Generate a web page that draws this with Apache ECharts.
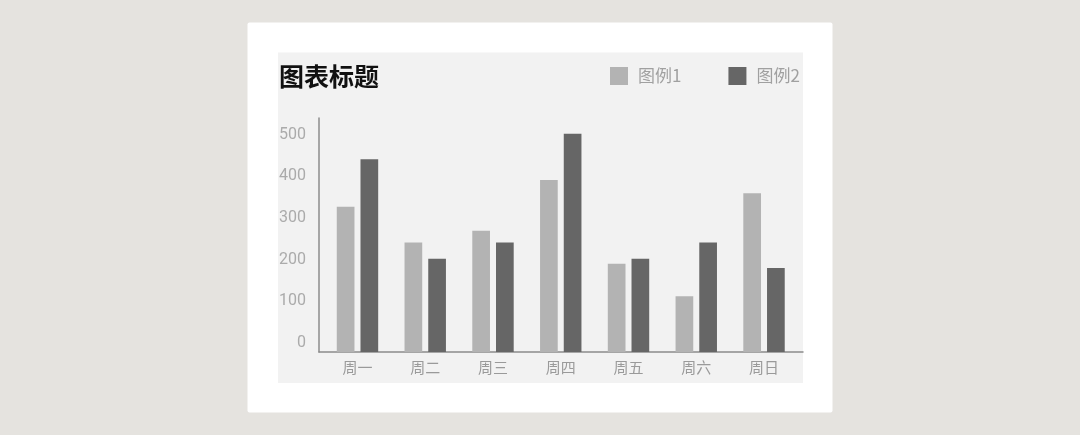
<!DOCTYPE html>
<html>
<head>
<meta charset="utf-8">
<style>
html,body{margin:0;padding:0;background:#e5e3df;}
#c{width:1080px;height:435px;}
</style>
<script src="https://cdn.jsdelivr.net/npm/echarts@6/dist/echarts.min.js"></script>
</head>
<body>
<div id="c"></div>
<script>
const categories = ['周一','周二','周三','周四','周五','周六','周日'];
const seriesNames = ['图例1','图例2'];
const series1 = [349, 263, 291, 413, 212, 134, 381];
const series2 = [463, 224, 263, 524, 224, 263, 202];
const yMin = 0, yMax = 562, yInterval = 100;
const titleText = '图表标题';

const chart = echarts.init(document.getElementById('c'), null, {renderer:'canvas'});
const font = '"Noto Sans CJK SC","Noto Sans",sans-serif';
chart.setOption({
  backgroundColor: '#e5e3df',
  animation: false,
  graphic: [
    {type:'rect', z:-10, shape:{x:247.5, y:22.5, width:585, height:390, r:2}, style:{fill:'#ffffff'}},
    {type:'rect', z:-9, shape:{x:278, y:52.5, width:525, height:330.5}, style:{fill:'#f2f2f2'}}
  ],
  title: {
    text: titleText, left: 274, top: 59,
    textStyle: {fontFamily: font, fontSize: 25, fontWeight: 'bold', color: '#111111'}
  },
  legend: {
    data: seriesNames, left: 610, top: 67, padding: 0,
    itemWidth: 18, itemHeight: 18, itemGap: 47, icon: 'rect',
    textStyle: {fontFamily: font, fontSize: 17, color: '#a0a0a0', padding: [0, 0, 0, 5]},
    itemStyle: {borderWidth: 0}
  },
  grid: [
    {left: 323.6, right: 1080-797.9, top: 118, bottom: 435-352, containLabel: false},
    {left: 319, right: 1080-803, top: 118, bottom: 435-352, containLabel: false}
  ],
  xAxis: [
    {
      type: 'category', data: categories, gridIndex: 0,
      axisLine: {show: false},
      axisTick: {show: false},
      axisLabel: {fontFamily: font, fontSize: 15, color: '#9a9a9a', margin: 8}
    },
    {
      type: 'value', gridIndex: 1, min: 0, max: 1,
      axisLine: {show: true, onZero: false, lineStyle: {color: '#8c8c8c', width: 1.5}},
      axisTick: {show: false}, axisLabel: {show: false}, splitLine: {show: false}
    }
  ],
  yAxis: [
    {
      type: 'value', gridIndex: 0, min: yMin, max: yMax, interval: yInterval,
      offset: 4.6,
      axisLine: {show: true, lineStyle: {color: '#8c8c8c', width: 1.5}},
      axisTick: {show: false},
      splitLine: {show: false},
      axisLabel: {
        showMaxLabel: false,
        fontFamily: 'Roboto,"Noto Sans",sans-serif', fontSize: 16, color: '#ababab',
        margin: 13, verticalAlign: 'bottom', lineHeight: 18
      }
    },
    {type: 'value', gridIndex: 1, show: false, min: 0, max: 1}
  ],
  series: [
    {
      name: seriesNames[0], type: 'bar', data: series1, xAxisIndex: 0, yAxisIndex: 0,
      barWidth: 17.7, barGap: '34%',
      itemStyle: {color: '#b3b3b3'}
    },
    {
      name: seriesNames[1], type: 'bar', data: series2, xAxisIndex: 0, yAxisIndex: 0,
      barWidth: 17.7, barGap: '34%',
      itemStyle: {color: '#666666'}
    }
  ]
});
</script>
</body>
</html>
